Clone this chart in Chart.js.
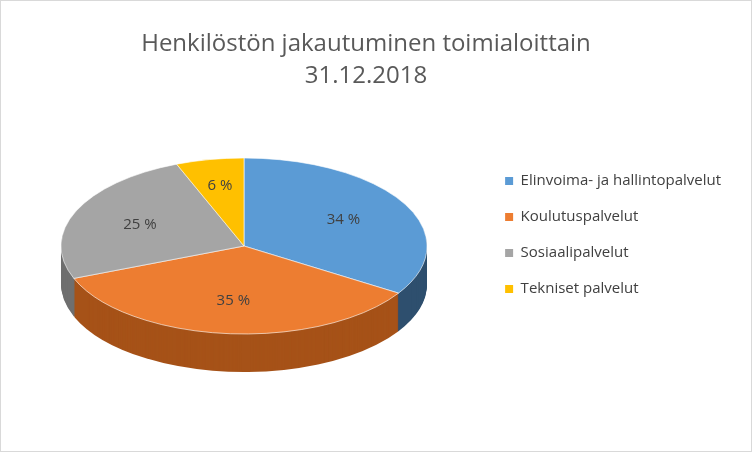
<!DOCTYPE html>
<html><head><meta charset="utf-8">
<script src="https://cdn.jsdelivr.net/npm/chart.js@4"></script>
<style>html,body{margin:0;background:#fff}#w{width:750px;height:450px;border:1px solid #d9d9d9}</style>
</head><body><div id="w"><canvas id="c"></canvas></div>
<script>
const categories=["Elinvoima- ja hallintopalvelut","Koulutuspalvelut","Sosiaalipalvelut","Tekniset palvelut"];
const values=[34,35,25,6];
const topColors=["#5b9bd5","#ed7d31","#a5a5a5","#ffc000"];
const sideColors=["#2e4f6e","#a65218","#6f6f6f","#b38600"];
const CX=243,CY=245,RX=183,RY=88,DEPTH=38;
const pie3d={id:'pie3d',
 beforeDatasetsDraw(chart){
  const ctx=chart.ctx,meta=chart.getDatasetMeta(0);
  const path=(a,off)=>{const r=a.outerRadius;ctx.save();ctx.translate(CX,CY+off);ctx.scale(RX/r,RY/r);
   ctx.beginPath();ctx.moveTo(0,0);ctx.arc(0,0,r,a.startAngle,a.endAngle);ctx.closePath();ctx.restore();};
  for(let off=DEPTH;off>0;off--){meta.data.forEach((a,i)=>{path(a,off);ctx.fillStyle=sideColors[i];ctx.fill();});}
  meta.data.forEach((a,i)=>{path(a,0);ctx.fillStyle=topColors[i];ctx.fill();ctx.strokeStyle='rgba(255,255,255,0.6)';ctx.lineWidth=1;ctx.stroke();});
  ctx.save();ctx.fillStyle='#404040';ctx.font='15px "Open Sans", Calibri, sans-serif';ctx.textAlign='center';ctx.textBaseline='middle';
  meta.data.forEach((a,i)=>{const m=(a.startAngle+a.endAngle)/2;const f=i==3?0.7:0.62;
   ctx.fillText(values[i]+' %',CX+Math.cos(m)*RX*f,CY+Math.sin(m)*RY*f);});
  ctx.restore();
  return false;}
};
new Chart(document.getElementById('c'),{type:'pie',
 data:{labels:categories,datasets:[{data:values,backgroundColor:topColors,borderWidth:0}]},
 options:{responsive:true,maintainAspectRatio:false,animation:false,
  layout:{padding:{right:20,top:18}},
  plugins:{tooltip:{enabled:false},
   title:{display:true,text:["Henkilöstön jakautuminen toimialoittain","31.12.2018"],color:'#595959',font:{size:24,weight:'normal',family:'"Open Sans", Calibri, sans-serif',lineHeight:1.3}},
   legend:{position:'right',labels:{color:'#404040',font:{size:15,family:'"Open Sans", Calibri, sans-serif'},boxWidth:8,boxHeight:8,padding:21}}}},
 plugins:[pie3d]});
</script></body></html>
